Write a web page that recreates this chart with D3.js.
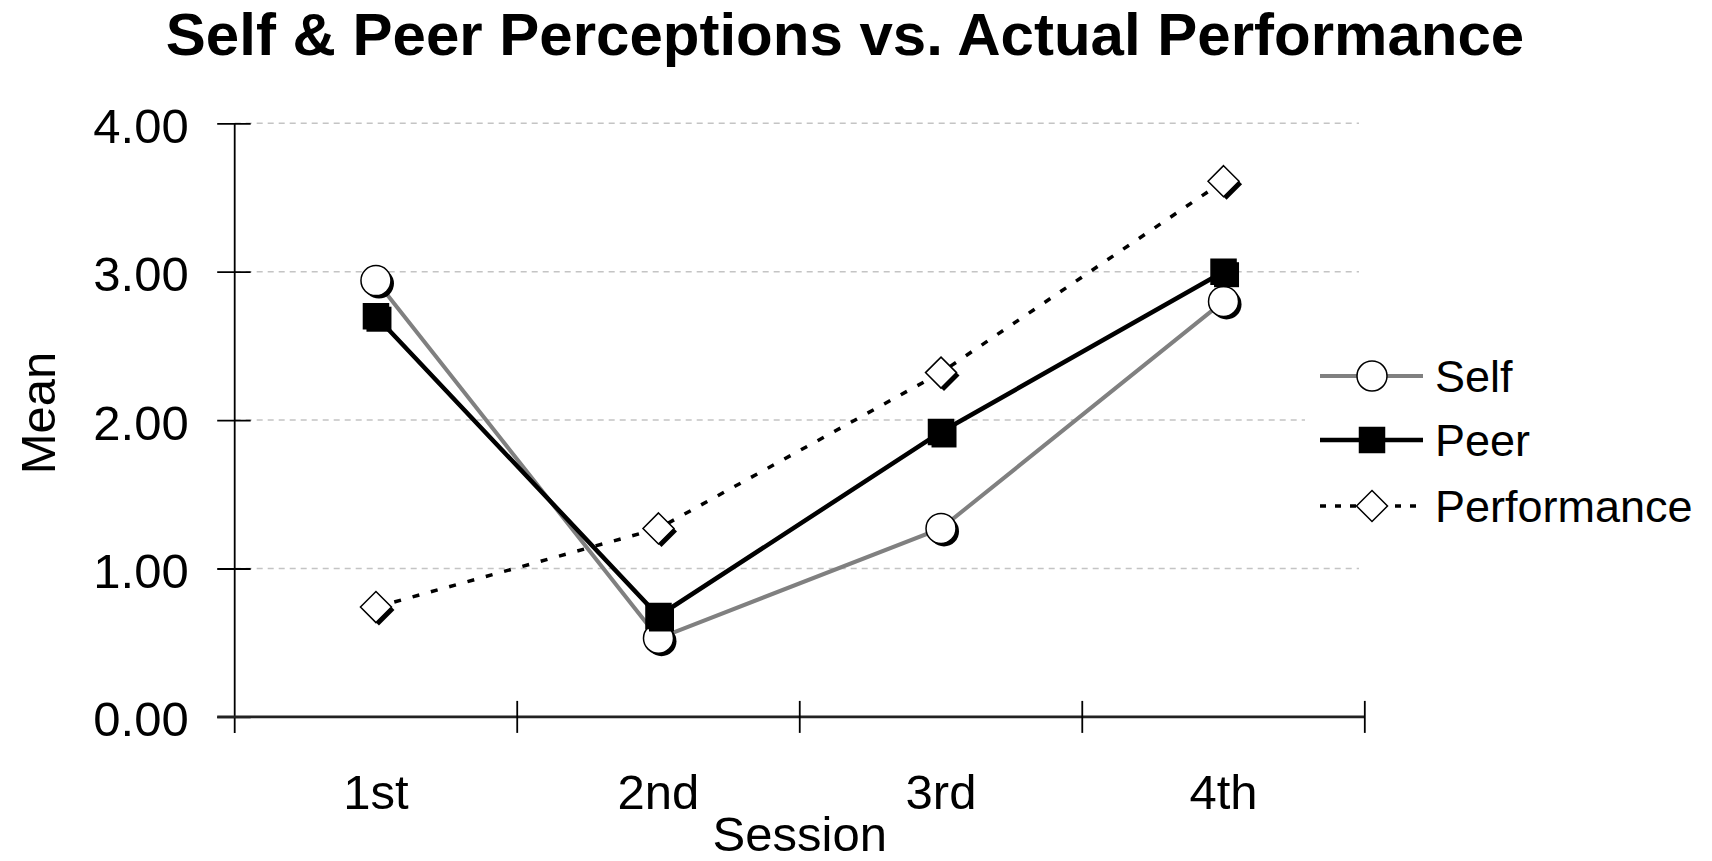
<!DOCTYPE html>
<html>
<head>
<meta charset="utf-8">
<script src="https://cdn.jsdelivr.net/npm/d3@7"></script>
<style>
  html, body { margin: 0; padding: 0; background: #fff; }
  svg { display: block; }
  text { font-family: "Liberation Sans", Arial, sans-serif; fill: #000; }
</style>
</head>
<body>
<svg id="chart" width="1712" height="861"></svg>
<script>
// Session categories and the three series of mean scores
const sessions = ["1st", "2nd", "3rd", "4th"];
const selfScores = [2.94, 0.53, 1.27, 2.80];
const peerScores = [2.70, 0.68, 1.92, 3.00];
const performanceScores = [0.74, 1.27, 2.32, 3.61];
const yTicks = [0, 1, 2, 3, 4];
const seriesNames = ["Self", "Peer", "Performance"];

const svg = d3.select("#chart");
const W = 1712, H = 861;
svg.append("rect").attr("width", W).attr("height", H).attr("fill", "#fff");

const plot = { left: 234.7, right: 1364.8, top: 123.3, bottom: 716.9 };

const x = d3.scaleBand().domain(sessions).range([plot.left, plot.right]).padding(0);
const y = d3.scaleLinear().domain([0, 4]).range([plot.bottom, plot.top]);
const cx = d => x(d) + x.bandwidth() / 2;

// Title
svg.append("text")
  .attr("x", 845).attr("y", 55)
  .attr("text-anchor", "middle")
  .style("font-size", "60px").style("font-weight", "bold")
  .text("Self & Peer Perceptions vs. Actual Performance");

// Horizontal dashed gridlines
svg.append("g").selectAll("line")
  .data(yTicks.filter(v => v > 0))
  .join("line")
  .attr("x1", plot.left).attr("x2", 1359)
  .attr("y1", d => y(d)).attr("y2", d => y(d))
  .attr("stroke", "#c4c4c4").attr("stroke-width", 1.5)
  .attr("stroke-dasharray", "6,5");

// Y axis
const yAxis = svg.append("g")
  .attr("transform", `translate(${plot.left},0)`)
  .call(d3.axisLeft(y).tickValues(yTicks).tickFormat(d3.format(".2f")).tickSizeOuter(0));
yAxis.select(".domain").remove();
yAxis.selectAll(".tick line").attr("x1", -17.5).attr("x2", 16).attr("stroke", "#000").attr("stroke-width", 1.8);
yAxis.selectAll(".tick text")
  .attr("x", -46).attr("dy", null).attr("y", 19)
  .style("font-size", "49px").style("font-family", "Liberation Sans, Arial, sans-serif");
svg.append("line")
  .attr("x1", plot.left).attr("x2", plot.left)
  .attr("y1", y(4)).attr("y2", plot.bottom + 16)
  .attr("stroke", "#000").attr("stroke-width", 1.8);

// X axis: baseline with ticks on the band boundaries, labels at band centres
const xAxis = svg.append("g")
  .attr("transform", `translate(0,${plot.bottom})`)
  .call(d3.axisBottom(x).tickSize(0).tickPadding(92));
xAxis.select(".domain").remove();
xAxis.selectAll(".tick text")
  .attr("dy", null)
  .style("font-size", "49px").style("font-family", "Liberation Sans, Arial, sans-serif");
xAxis.selectAll(".tick text").attr("y", 92.4);
svg.append("line")
  .attr("x1", plot.left - 17.5).attr("x2", plot.right)
  .attr("y1", plot.bottom).attr("y2", plot.bottom)
  .attr("stroke", "#222").attr("stroke-width", 2.6);
const edges = sessions.map(d => x(d)).concat([x(sessions[3]) + x.bandwidth()]);
svg.append("g").selectAll("line")
  .data(edges.slice(1))
  .join("line")
  .attr("x1", d => d).attr("x2", d => d)
  .attr("y1", plot.bottom - 16).attr("y2", plot.bottom + 16)
  .attr("stroke", "#000").attr("stroke-width", 1.8);

// Axis titles
svg.append("text")
  .attr("x", (plot.left + plot.right) / 2).attr("y", 851)
  .attr("text-anchor", "middle").style("font-size", "49px")
  .text("Session");
svg.append("text")
  .attr("transform", "translate(55,413) rotate(-90)")
  .attr("text-anchor", "middle").style("font-size", "49px")
  .text("Mean");

// Marker shapes
const circlePath = d3.symbol().type(d3.symbolCircle).size(Math.PI * 15 * 15)();
const squarePath = "M-12.5,-12.5H12.5V12.5H-12.5Z";
const diamondPath = "M0,-15.5L15.5,0L0,15.5L-15.5,0Z";

const series = [
  { name: seriesNames[0], values: selfScores, color: "#808080", width: 4, dash: null, legendDash: null,
    marker: circlePath, fill: "#fff" },
  { name: seriesNames[1], values: peerScores, color: "#000", width: 4.5, dash: null, legendDash: null,
    marker: squarePath, fill: "#000" },
  { name: seriesNames[2], values: performanceScores, color: "#000", width: 3.5, dash: "7,12", legendDash: "6,9",
    marker: diamondPath, fill: "#fff" }
];

const line = d3.line().x((d, i) => cx(sessions[i])).y(d => y(d));

series.forEach(s => {
  const g = svg.append("g");
  g.append("path")
    .attr("d", line(s.values))
    .attr("fill", "none")
    .attr("stroke", s.color).attr("stroke-width", s.width)
    .attr("stroke-dasharray", s.dash);
  const pts = g.selectAll("g.pt").data(s.values).join("g")
    .attr("class", "pt")
    .attr("transform", (d, i) => `translate(${cx(sessions[i])},${y(d)})`);
  // drop shadow
  pts.append("path").attr("d", s.marker)
    .attr("transform", "translate(3,3)")
    .attr("fill", "#000");
  pts.append("path").attr("d", s.marker)
    .attr("fill", s.fill).attr("stroke", "#000").attr("stroke-width", 1.5);
});

// Legend
const legend = svg.append("g");
legend.append("rect")
  .attr("x", 1305).attr("y", 340).attr("width", 407).attr("height", 190)
  .attr("fill", "#fff");
const legendY = [376, 440, 506];
series.forEach((s, i) => {
  const ly = legendY[i];
  legend.append("line")
    .attr("x1", 1320).attr("x2", 1423).attr("y1", ly).attr("y2", ly)
    .attr("stroke", s.color).attr("stroke-width", s.width)
    .attr("stroke-dasharray", s.legendDash);
  legend.append("path").attr("d", s.marker)
    .attr("transform", `translate(1372,${ly})`)
    .attr("fill", s.fill).attr("stroke", "#000").attr("stroke-width", 1.5);
  legend.append("text")
    .attr("x", 1435).attr("y", ly + 16)
    .style("font-size", "45px")
    .text(s.name);
});
</script>
</body>
</html>
